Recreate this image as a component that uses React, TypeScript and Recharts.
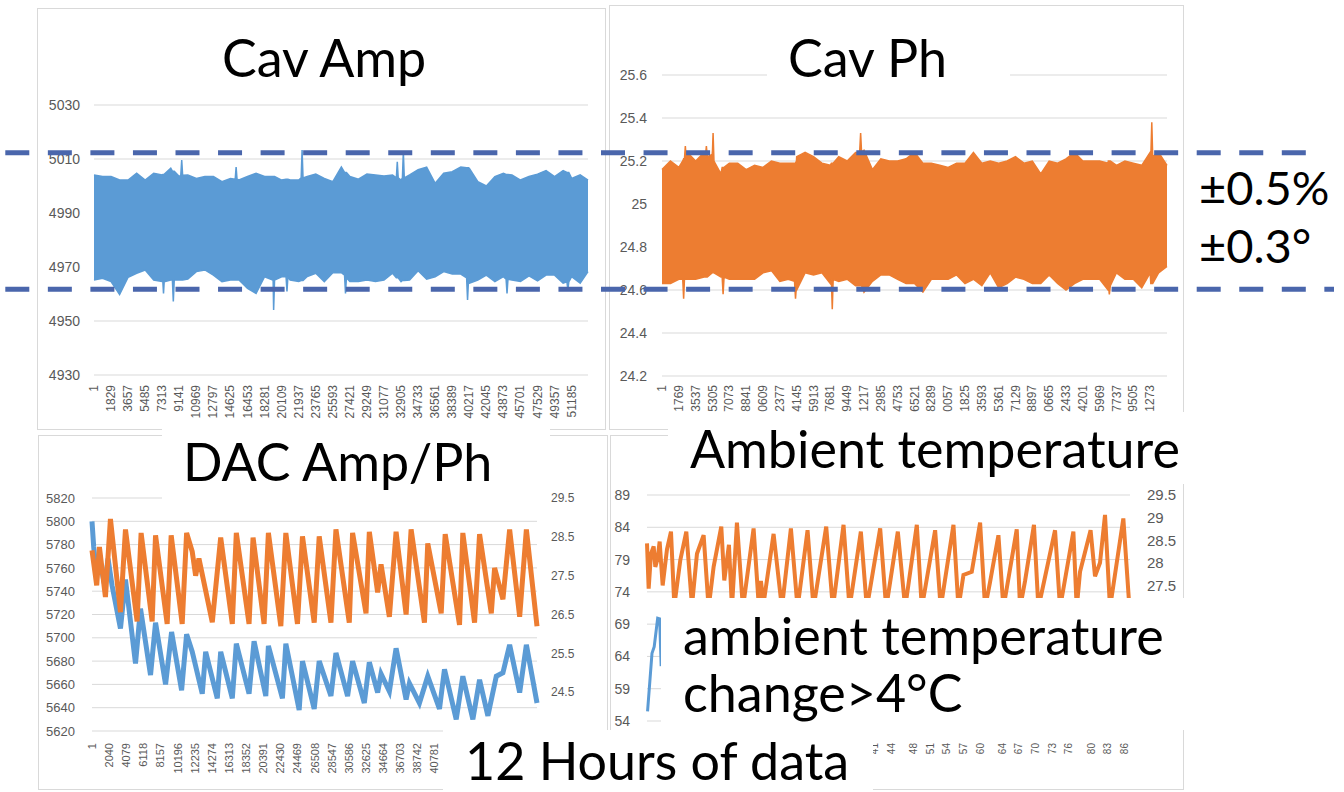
import { Area, CartesianGrid, ComposedChart, Line, XAxis, YAxis } from 'recharts';

const COLORS = {
  blue: '#5B9BD5',
  orange: '#ED7D31',
  grid: '#D9D9D9',
  tick: '#595959',
  frame: '#D9D9D9',
  dash: '#4A66AC',
  text: '#000000',
};

const TITLE_FONT = 'Lato, "Noto Sans", sans-serif';
const AXIS_FONT = '"Liberation Sans", Arial, sans-serif';

// ---- Cav Amp (noise band, upper / lower envelope) ----
const ampXTicks = [1, 1829, 3657, 5485, 7313, 9141, 10969, 12797, 14625, 16453, 18281, 20109, 21937, 23765, 25593, 27421, 29249, 31077, 32905, 34733, 36561, 38389, 40217, 42045, 43873, 45701, 47529, 49357, 51185];
const ampYTicks = [4930, 4950, 4970, 4990, 5010, 5030];
const ampStep = 914;
const ampLast = 52937;
const ampHi = [5004.1, 5003.5, 5003.5, 5002.2, 5002.2, 5004.7, 5002.2, 5004.7, 5004.1, 5006.6, 5003.5, 5004.1, 5002.8, 5003.5, 5003.5, 5001.6, 5002.8, 5002.2, 5003.5, 5004.7, 5003.5, 5003.5, 5002.2, 5002.2, 5002.2, 5003.5, 5004.4, 5002.8, 5001.6, 5007.0, 5003.5, 5002.5, 5004.4, 5004.1, 5003.7, 5004.1, 5002.2, 5004.1, 5006.0, 5007.0, 5001.0, 5004.7, 5005.3, 5007.0, 5006.6, 5001.6, 5000.0, 5003.5, 5004.7, 5004.1, 5002.2, 5003.5, 5004.4, 5005.7, 5003.5, 5005.7, 5002.8, 5004.1, 5002.2];
const ampLo = [4965.2, 4965.8, 4964.6, 4959.8, 4966.2, 4967.7, 4968.9, 4965.2, 4964.6, 4965.2, 4965.2, 4965.5, 4968.3, 4968.9, 4967.0, 4964.6, 4965.2, 4965.2, 4962.1, 4960.2, 4966.4, 4965.2, 4966.4, 4965.2, 4964.6, 4966.5, 4967.7, 4964.6, 4967.9, 4967.9, 4964.6, 4964.6, 4965.2, 4964.6, 4965.2, 4967.7, 4964.6, 4965.2, 4968.6, 4965.5, 4966.4, 4968.3, 4967.4, 4967.4, 4964.0, 4965.2, 4967.0, 4964.6, 4966.4, 4965.2, 4964.6, 4966.7, 4964.9, 4967.0, 4967.0, 4964.0, 4966.4, 4964.0, 4968.3];
const ampSpikeX = [7380, 7450, 7520, 8400, 8500, 8600, 9300, 9400, 9500, 15130, 15230, 15330, 19150, 19250, 19350, 20580, 20680, 20780, 22200, 22300, 22400, 26850, 26950, 27050, 32400, 32500, 32600, 33050, 33150, 33250, 39930, 40030, 40130, 44160, 44260, 44360, 50680, 50780, 50880];
const ampSpikeLo = [4964.5, 4960.2, 4964.5, 4965.2, 4957.2, 4965.2, 4965.2, 4965.2, 4965.2, 4965.2, 4965.2, 4965.2, 4965.2, 4954.1, 4965.2, 4966.4, 4960.9, 4966.4, 4965.0, 4965.0, 4965.0, 4967.0, 4960.2, 4966.0, 4966.0, 4966.0, 4966.0, 4965.0, 4965.0, 4965.0, 4966.0, 4957.8, 4965.0, 4965.5, 4960.2, 4965.5, 4964.5, 4961.5, 4964.5];
const ampSpikeHi = [5004.3, 5004.3, 5004.3, 5005.5, 5005.5, 5005.5, 5004.0, 5009.6, 5004.0, 5002.5, 5007.0, 5002.5, 5003.5, 5003.5, 5003.5, 5002.5, 5002.5, 5002.5, 5003.0, 5013.3, 5003.0, 5005.0, 5005.0, 5005.0, 5003.0, 5009.0, 5003.0, 5003.0, 5012.7, 5003.0, 5006.8, 5006.8, 5006.8, 5004.3, 5004.3, 5004.3, 5005.0, 5005.0, 5005.0];

// ---- Cav Ph (noise band) ----
const phXTicks = [1, 1769, 3537, 5305, 7073, 8841, 10609, 12377, 14145, 15913, 17681, 19449, 21217, 22985, 24753, 26521, 28289, 30057, 31825, 33593, 35361, 37129, 38897, 40665, 42433, 44201, 45969, 47737, 49505, 51273];
const phYTicks = [24.2, 24.4, 24.6, 24.8, 25, 25.2, 25.4, 25.6];
const phStep = 884;
const phHi = [25.16, 25.2, 25.17, 25.24, 25.2, 25.24, 25.25, 25.14, 25.19, 25.19, 25.16, 25.18, 25.17, 25.2, 25.19, 25.19, 25.22, 25.24, 25.22, 25.19, 25.18, 25.22, 25.2, 25.24, 25.25, 25.16, 25.21, 25.2, 25.2, 25.21, 25.24, 25.19, 25.19, 25.18, 25.17, 25.19, 25.19, 25.24, 25.19, 25.2, 25.19, 25.2, 25.22, 25.19, 25.2, 25.14, 25.2, 25.19, 25.21, 25.24, 25.2, 25.2, 25.2, 25.19, 25.18, 25.2, 25.19, 25.18, 25.24, 25.24, 25.18];
const phLo = [24.63, 24.63, 24.65, 24.65, 24.65, 24.66, 24.69, 24.66, 24.65, 24.65, 24.65, 24.65, 24.68, 24.69, 24.64, 24.65, 24.6, 24.68, 24.67, 24.68, 24.63, 24.64, 24.65, 24.62, 24.59, 24.64, 24.67, 24.67, 24.65, 24.63, 24.63, 24.59, 24.65, 24.65, 24.65, 24.67, 24.63, 24.65, 24.62, 24.68, 24.61, 24.63, 24.66, 24.65, 24.63, 24.63, 24.67, 24.63, 24.6, 24.63, 24.65, 24.65, 24.65, 24.6, 24.68, 24.65, 24.65, 24.61, 24.68, 24.68, 24.71];
const phSpikeX = [2180, 2273, 2360, 2452, 2550, 4560, 4662, 4760, 5270, 5366, 5460, 6320, 6418, 6520, 13920, 14024, 14120, 17790, 17885, 17980, 20760, 20863, 20960, 46880, 46985, 47090, 51340, 51443, 51540];
const phSpikeLo = [24.65, 24.56, 24.65, 24.65, 24.65, 24.66, 24.66, 24.66, 24.68, 24.68, 24.68, 24.66, 24.58, 24.66, 24.64, 24.56, 24.62, 24.65, 24.51, 24.65, 24.62, 24.62, 24.62, 24.62, 24.58, 24.62, 24.63, 24.63, 24.63];
const phSpikeHi = [25.2, 25.21, 25.21, 25.27, 25.21, 25.22, 25.27, 25.22, 25.23, 25.33, 25.2, 25.17, 25.17, 25.17, 25.19, 25.19, 25.2, 25.19, 25.19, 25.19, 25.24, 25.33, 25.24, 25.2, 25.2, 25.2, 25.22, 25.38, 25.22];

// ---- DAC Amp/Ph ----
const dacXTicks = [1, 2040, 4079, 6118, 8157, 10196, 12235, 14274, 16313, 18352, 20391, 22430, 24469, 26508, 28547, 30586, 32625, 34664, 36703, 38742, 40781];
const dacAmpTicks = [5620, 5640, 5660, 5680, 5700, 5720, 5740, 5760, 5780, 5800, 5820];
const dacPhTicks = [24.5, 25.5, 26.5, 27.5, 28.5, 29.5];
const dacAmpX = [1, 204, 526, 885, 1517, 1912, 2389, 3392, 3989, 5183, 5780, 6974, 7571, 8765, 9481, 10675, 11272, 11941, 13135, 13541, 14926, 15332, 16717, 17194, 18711, 19308, 20705, 21015, 22687, 23093, 24681, 25075, 26472, 27069, 28466, 29063, 30448, 31045, 32442, 33039, 34030, 34436, 35427, 36227, 37421, 37815, 39009, 40000, 41397, 41994, 43391, 44179, 45374, 46173, 47164, 48167, 48955, 49755, 50949, 51749, 53015];
const dacAmpY = [5800, 5778, 5755, 5768, 5745, 5768, 5745, 5708, 5750, 5678, 5725, 5668, 5713, 5660, 5705, 5655, 5703, 5688, 5652, 5688, 5648, 5688, 5648, 5695, 5652, 5697, 5650, 5693, 5648, 5695, 5638, 5680, 5639, 5680, 5650, 5687, 5650, 5680, 5644, 5679, 5653, 5669, 5654, 5691, 5647, 5661, 5644, 5667, 5639, 5673, 5630, 5667, 5630, 5664, 5633, 5667, 5670, 5694, 5653, 5694, 5644];
const dacPhX = [1, 562, 885, 1601, 2198, 3392, 3989, 5374, 5852, 7165, 7571, 8956, 9434, 10747, 11272, 11941, 12347, 12741, 14329, 15332, 16717, 17194, 18711, 19188, 20502, 21015, 22496, 23093, 24478, 25075, 26472, 27069, 28466, 29063, 30651, 31045, 32645, 33039, 34030, 34436, 35427, 36227, 37421, 38018, 39606, 40000, 41600, 42078, 43785, 44179, 45576, 46173, 47570, 47964, 48955, 49755, 50949, 51749, 53015];
const dacPhY = [28.15, 27.25, 28.24, 26.95, 28.96, 26.56, 28.69, 26.32, 28.6, 26.32, 28.54, 26.26, 28.54, 26.26, 28.6, 28.12, 27.5, 27.94, 26.3, 28.48, 26.26, 28.6, 26.26, 28.48, 26.26, 28.6, 26.2, 28.6, 26.26, 28.51, 26.29, 28.51, 26.29, 28.69, 26.29, 28.6, 26.53, 28.63, 27.07, 27.79, 26.44, 28.63, 26.5, 28.69, 26.29, 28.33, 26.53, 28.57, 26.23, 28.6, 26.29, 28.57, 26.53, 27.7, 26.89, 28.69, 26.44, 28.69, 26.2];

// ---- Ambient temperature ----
const ambXTicks = [41, 44, 48, 51, 54, 57, 60, 64, 67, 70, 73, 76, 80, 83, 86];
const ambLeftTicks = [54, 59, 64, 69, 74, 79, 84, 89];
const ambRightTicks = [27.5, 28, 28.5, 29, 29.5];
const ambTempX = [0, 0.3, 0.72, 1.2, 1.5, 1.92, 2.28, 2.82, 3.6, 4.32, 4.92, 6.0, 7.08, 8.1, 9.0, 10.2, 11.1, 12.0, 13.38, 13.92, 14.76, 15.3, 16.2, 17.28, 19.2, 20.16, 20.52, 21.0, 22.8, 24.3, 25.92, 27.12, 28.92, 30.0, 32.28, 33.48, 35.4, 36.48, 38.52, 39.6, 42.0, 43.08, 45.18, 46.5, 48.6, 49.5, 51.9, 52.9, 55.2, 56.1, 57.0, 58.5, 60.0, 60.9, 61.8, 63.3, 64.2, 66.6, 67.2, 68.1, 69.7, 70.5, 73.5, 74.4, 76.8, 77.4, 78.0, 79.9, 80.7, 81.6, 82.5, 83.4, 85.8, 86.9];
const ambTempY = [28.43, 27.43, 28.2, 28.36, 27.91, 28.1, 28.47, 27.5, 28.3, 28.69, 27.05, 28.06, 28.69, 27.05, 28.2, 28.61, 27.0, 27.91, 28.8, 27.61, 28.4, 27.0, 28.89, 27.0, 28.76, 27.0, 27.6, 27.1, 28.64, 27.0, 28.76, 27.0, 28.72, 27.0, 28.8, 27.0, 28.84, 27.0, 28.69, 27.0, 28.76, 27.0, 28.69, 27.0, 28.84, 27.0, 28.72, 27.0, 28.84, 27.0, 27.73, 27.8, 28.89, 27.0, 27.58, 28.61, 27.0, 28.74, 27.0, 27.6, 28.84, 27.0, 28.72, 27.0, 28.69, 27.0, 27.8, 28.72, 27.7, 28.0, 29.06, 27.0, 28.98, 27.0];
const ambBlueX = [0.1, 0.9, 1.3, 1.92, 2.28, 2.55];
const ambBlueY = [55.5, 64.5, 65.5, 69.9, 69.8, 62.5];

type BandRow = { s: number; band: [number, number] };

function bandRows(xs: number[], lo: number[], hi: number[]): BandRow[] {
  return xs.map((s, i) => ({ s, band: [lo[i], hi[i]] as [number, number] }));
}

// sample index of each envelope reading (evenly spaced rows of the sheet)
function gridX(count: number, step: number, last?: number) {
  return Array.from({ length: count }, (_, i) => (last !== undefined && i === count - 1 ? last : 1 + i * step));
}

function pointRows(xs: number[], ys: number[]) {
  return xs.map((s, i) => ({ s, v: ys[i] }));
}

const ampData = [
  ...bandRows(gridX(ampHi.length, ampStep, ampLast), ampLo, ampHi),
  ...bandRows(ampSpikeX, ampSpikeLo, ampSpikeHi),
].sort((a, b) => a.s - b.s);

const phData = [
  ...bandRows(gridX(phHi.length, phStep), phLo, phHi),
  ...bandRows(phSpikeX, phSpikeLo, phSpikeHi),
].sort((a, b) => a.s - b.s);

const dacAmpData = pointRows(dacAmpX, dacAmpY);
const dacPhData = pointRows(dacPhX, dacPhY);
const ambTempData = pointRows(ambTempX, ambTempY);
const ambBlueData = pointRows(ambBlueX, ambBlueY);

function RotatedTick(props: any) {
  const { x, y, payload, fontSize } = props;
  return (
    <text
      x={x}
      y={y}
      transform={`rotate(-90 ${x} ${y})`}
      textAnchor="end"
      dominantBaseline="central"
      fontSize={fontSize}
      fill={COLORS.tick}
    >
      {payload.value}
    </text>
  );
}

const frameStyle = (left: number, top: number, width: number, height: number) => ({
  position: 'absolute' as const,
  left,
  top,
  width,
  height,
  border: `1px solid ${COLORS.frame}`,
  boxSizing: 'border-box' as const,
});

const place = (left: number, top: number) => ({ position: 'absolute' as const, left, top });

export default function App() {
  return (
    <div
      style={{
        position: 'absolute',
        left: 0,
        top: 0,
        width: 1344,
        height: 792,
        overflow: 'hidden',
        background: '#fff',
        fontFamily: AXIS_FONT,
      }}
    >
      <div style={frameStyle(37, 8, 569, 422)} />
      <div style={frameStyle(609, 5, 575, 425)} />
      <div style={frameStyle(38, 435, 570, 355)} />
      <div style={frameStyle(610, 435, 574, 355)} />

      {/* Cav Amp */}
      <div style={place(38, 8)}>
        <ComposedChart width={567} height={422} data={ampData} margin={{ top: 97, right: 17, bottom: 0, left: 0 }}>
          <CartesianGrid vertical={false} stroke={COLORS.grid} />
          <XAxis
            type="number"
            dataKey="s"
            domain={[1, ampLast]}
            ticks={ampXTicks}
            interval={0}
            height={55}
            axisLine={false}
            tickLine={false}
            tickSize={0}
            tickMargin={10}
            tick={(p: any) => <RotatedTick {...p} fontSize={12} />}
          />
          <YAxis
            domain={[4930, 5030]}
            ticks={ampYTicks}
            width={56}
            axisLine={false}
            tickLine={false}
            tickSize={0}
            tickMargin={14}
            tick={{ fontSize: 14, fill: COLORS.tick }}
          />
          <Area
            type="linear"
            dataKey="band"
            stroke={COLORS.blue}
            strokeWidth={1.5}
            fill={COLORS.blue}
            fillOpacity={1}
            dot={false}
            activeDot={false}
            isAnimationActive={false}
          />
        </ComposedChart>
      </div>

      {/* Cav Ph */}
      <div style={place(610, 5)}>
        <ComposedChart width={575} height={425} data={phData} margin={{ top: 70, right: 18, bottom: 0, left: 0 }}>
          <CartesianGrid vertical={false} stroke={COLORS.grid} />
          <XAxis
            type="number"
            dataKey="s"
            domain={[1, 53041]}
            ticks={phXTicks}
            interval={0}
            height={54}
            axisLine={false}
            tickLine={false}
            tickSize={0}
            tickMargin={9}
            tick={(p: any) => <RotatedTick {...p} fontSize={12} />}
          />
          <YAxis
            domain={[24.2, 25.6]}
            ticks={phYTicks}
            width={52}
            axisLine={false}
            tickLine={false}
            tickSize={0}
            tickMargin={15}
            tick={{ fontSize: 14, fill: COLORS.tick }}
          />
          <Area
            type="linear"
            dataKey="band"
            stroke={COLORS.orange}
            strokeWidth={1.5}
            fill={COLORS.orange}
            fillOpacity={1}
            dot={false}
            activeDot={false}
            isAnimationActive={false}
          />
        </ComposedChart>
      </div>

      {/* DAC Amp/Ph */}
      <div style={place(38, 435)}>
        <ComposedChart width={569} height={355} margin={{ top: 63, right: 0, bottom: 0, left: 0 }}>
          <CartesianGrid vertical={false} stroke={COLORS.grid} />
          <XAxis
            type="number"
            dataKey="s"
            domain={[1, 53015]}
            ticks={dacXTicks}
            interval={0}
            height={59}
            axisLine={false}
            tickLine={false}
            tickSize={0}
            tickMargin={12}
            tick={(p: any) => <RotatedTick {...p} fontSize={11} />}
          />
          <YAxis
            domain={[5620, 5820]}
            ticks={dacAmpTicks}
            width={54}
            axisLine={false}
            tickLine={false}
            tickSize={0}
            tickMargin={17}
            tick={{ fontSize: 13, fill: COLORS.tick }}
          />
          <YAxis
            yAxisId="r"
            orientation="right"
            domain={[23.5, 29.5]}
            ticks={dacPhTicks}
            width={70}
            axisLine={false}
            tickLine={false}
            tickSize={0}
            tickMargin={14}
            tick={{ fontSize: 12, fill: COLORS.tick }}
          />
          <Line
            data={dacAmpData}
            dataKey="v"
            type="linear"
            stroke={COLORS.blue}
            strokeWidth={5}
            dot={false}
            activeDot={false}
            isAnimationActive={false}
          />
          <Line
            data={dacPhData}
            dataKey="v"
            yAxisId="r"
            type="linear"
            stroke={COLORS.orange}
            strokeWidth={5}
            dot={false}
            activeDot={false}
            isAnimationActive={false}
          />
        </ComposedChart>
      </div>

      {/* Ambient temperature */}
      <div style={place(610, 435)}>
        <ComposedChart width={573} height={355} margin={{ top: 60, right: 0, bottom: 0, left: 0 }}>
          <CartesianGrid vertical={false} stroke={COLORS.grid} />
          <XAxis
            type="number"
            dataKey="s"
            domain={[0, 87]}
            ticks={ambXTicks}
            interval={0}
            height={69}
            axisLine={false}
            tickLine={false}
            tickSize={0}
            tickMargin={22}
            tick={(p: any) => <RotatedTick {...p} fontSize={10} />}
          />
          <YAxis
            domain={[54, 89]}
            ticks={ambLeftTicks}
            width={37}
            axisLine={false}
            tickLine={false}
            tickSize={0}
            tickMargin={17}
            tick={{ fontSize: 14, fill: COLORS.tick }}
          />
          <YAxis
            yAxisId="r"
            orientation="right"
            domain={[24.5, 29.5]}
            ticks={ambRightTicks}
            width={53}
            axisLine={false}
            tickLine={false}
            tickSize={0}
            tickMargin={17}
            tick={{ fontSize: 15, fill: COLORS.tick }}
          />
          <Line
            data={ambBlueData}
            dataKey="v"
            type="linear"
            stroke={COLORS.blue}
            strokeWidth={3}
            dot={false}
            activeDot={false}
            isAnimationActive={false}
          />
          <Line
            data={ambTempData}
            dataKey="v"
            yAxisId="r"
            type="linear"
            stroke={COLORS.orange}
            strokeWidth={4}
            dot={false}
            activeDot={false}
            isAnimationActive={false}
          />
        </ComposedChart>
      </div>

      {/* annotations on top of the charts */}
      <svg
        width={1344}
        height={792}
        style={{ position: 'absolute', left: 0, top: 0, pointerEvents: 'none' }}
        fontFamily={TITLE_FONT}
        fill={COLORS.text}
      >
        <rect x={767} y={22} width={243} height={76} fill="#fff" />
        <rect x={162} y={428} width={388} height={78} fill="#fff" />
        <rect x={668} y={412} width={524} height={72} fill="#fff" />
        <rect x={661} y={598} width={531} height={132} fill="#fff" />
        <rect x={443} y={730} width={430} height={62} fill="#fff" />
        <rect x={1186} y={162} width={158} height={120} fill="#fff" />

        <line x1={5.3} y1={152.7} x2={1306} y2={152.7} stroke={COLORS.dash} strokeWidth={5} strokeDasharray="24 18.55" />
        <line x1={5.3} y1={289.3} x2={1334} y2={289.3} stroke={COLORS.dash} strokeWidth={5} strokeDasharray="24 18.55" />

        <text x={222} y={77} fontSize={52}>Cav Amp</text>
        <text x={788} y={77} fontSize={52}>Cav Ph</text>
        <text x={1199} y={205} fontSize={47}>±0.5%</text>
        <text x={1199} y={263} fontSize={47}>±0.3°</text>
        <text x={183} y={481} fontSize={52}>DAC Amp/Ph</text>
        <text x={690} y={468} fontSize={52}>Ambient temperature</text>
        <text x={683} y={655} fontSize={52}>ambient temperature</text>
        <text x={683} y={712} fontSize={52}>change&gt;4°C</text>
        <text x={465} y={780} fontSize={52}>12 Hours of data</text>
      </svg>
    </div>
  );
}
